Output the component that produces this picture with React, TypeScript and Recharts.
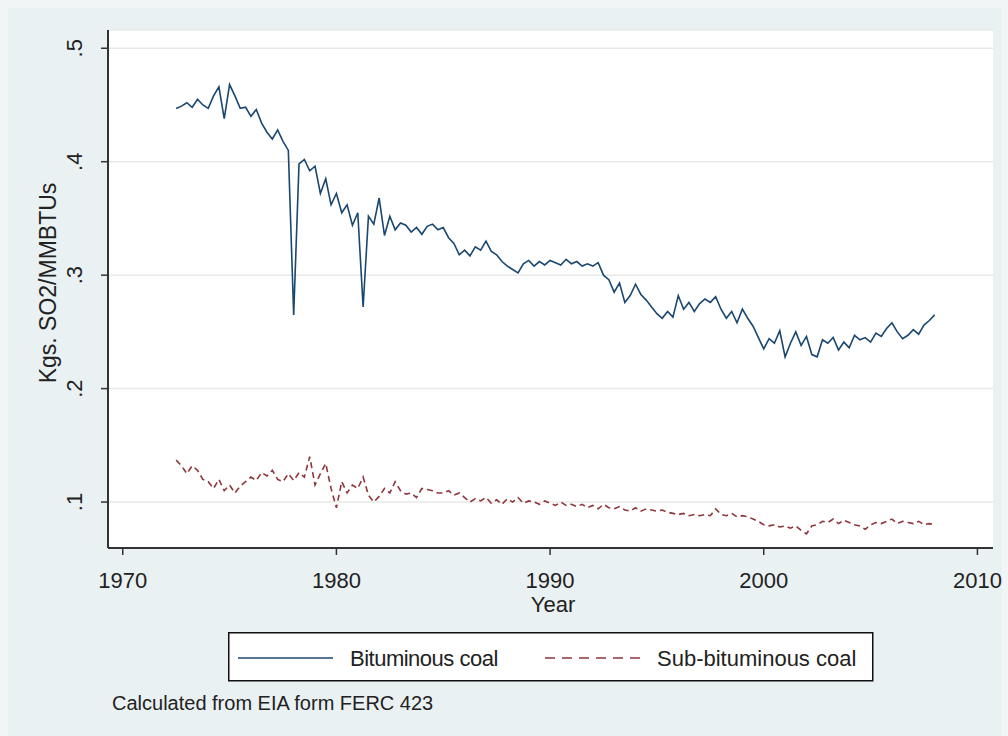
import React from "react";
import { CartesianGrid, Line, LineChart, XAxis, YAxis } from "recharts";

// quarterly observations, first one at mid-1972
const START_YEAR = 1972.5;
const STEP = 0.25;

const bituminous = [
  0.447, 0.449,
  0.452, 0.448, 0.455, 0.45,
  0.447, 0.458, 0.466, 0.438,
  0.468, 0.458, 0.447, 0.448,
  0.44, 0.446, 0.434, 0.426,
  0.42, 0.428, 0.418, 0.41,
  0.265, 0.398, 0.402, 0.392,
  0.396, 0.372, 0.385, 0.362,
  0.372, 0.355, 0.362, 0.344,
  0.355, 0.272, 0.352, 0.345,
  0.368, 0.335, 0.352, 0.34,
  0.346, 0.344, 0.338, 0.342,
  0.336, 0.343, 0.345, 0.34,
  0.342, 0.333, 0.328, 0.318,
  0.322, 0.317, 0.325, 0.322,
  0.33, 0.321, 0.318, 0.312,
  0.308, 0.305, 0.302, 0.31,
  0.313, 0.308, 0.312, 0.309,
  0.313, 0.311, 0.309, 0.314,
  0.31, 0.312, 0.308, 0.31,
  0.308, 0.311, 0.3, 0.296,
  0.285, 0.293, 0.276, 0.282,
  0.292, 0.283, 0.278, 0.272,
  0.266, 0.262, 0.268, 0.263,
  0.282, 0.27, 0.276, 0.268,
  0.275, 0.279, 0.276, 0.281,
  0.27, 0.262, 0.268, 0.258,
  0.27, 0.262, 0.255, 0.245,
  0.235, 0.244, 0.24, 0.251,
  0.228, 0.24, 0.25, 0.238,
  0.246, 0.23, 0.228, 0.243,
  0.24, 0.245, 0.234, 0.241,
  0.236, 0.247, 0.243, 0.245,
  0.241, 0.249, 0.246, 0.253,
  0.258, 0.25, 0.244, 0.247,
  0.252, 0.248, 0.256, 0.26,
  0.265,
];

const subBituminous = [
  0.137, 0.132,
  0.125, 0.132, 0.128, 0.12,
  0.118, 0.112, 0.12, 0.11,
  0.115, 0.108, 0.114, 0.118,
  0.122, 0.119, 0.126, 0.123,
  0.128, 0.12, 0.118, 0.125,
  0.119, 0.126, 0.122, 0.14,
  0.115, 0.125, 0.134, 0.112,
  0.095, 0.118, 0.108, 0.115,
  0.112, 0.122, 0.106, 0.1,
  0.105, 0.112, 0.108, 0.118,
  0.11, 0.107, 0.108, 0.104,
  0.112, 0.111, 0.11, 0.108,
  0.108, 0.11, 0.106, 0.108,
  0.104, 0.1, 0.103, 0.101,
  0.104, 0.099, 0.102, 0.098,
  0.103, 0.1, 0.104, 0.099,
  0.101, 0.1, 0.098, 0.101,
  0.099, 0.097, 0.1, 0.097,
  0.098, 0.096, 0.098, 0.095,
  0.097, 0.094, 0.098, 0.095,
  0.094, 0.096, 0.093, 0.092,
  0.095, 0.092, 0.094, 0.093,
  0.092, 0.093, 0.091, 0.09,
  0.089, 0.09, 0.088, 0.089,
  0.088, 0.089, 0.088, 0.094,
  0.089, 0.088, 0.09, 0.087,
  0.088, 0.087, 0.085, 0.083,
  0.08, 0.079, 0.08, 0.078,
  0.079, 0.077, 0.079, 0.075,
  0.072, 0.079, 0.08, 0.083,
  0.082, 0.085, 0.081, 0.084,
  0.082, 0.08, 0.079, 0.076,
  0.08, 0.082, 0.081, 0.083,
  0.085, 0.081, 0.083, 0.082,
  0.081, 0.083, 0.08, 0.081,
  0.08,
];

const xTicks = [1970, 1980, 1990, 2000, 2010];
const yTicks = [0.1, 0.2, 0.3, 0.4, 0.5];

const series = [
  { key: "bit", name: "Bituminous coal", color: "#1A476F", dash: undefined as string | undefined },
  { key: "sub", name: "Sub-bituminous coal", color: "#90353B", dash: "10 7" },
];

const data = bituminous.map((v, i) => ({
  t: START_YEAR + i * STEP,
  bit: v,
  sub: subBituminous[i],
}));

const FONT = "Arial, 'Liberation Sans', sans-serif";
const TEXT = "#222";
const AXIS = "#333";

function YTick({ y, payload }: any) {
  const label = Number(payload.value).toFixed(1).replace(/^0/, "");
  return (
    <text
      transform={`translate(82, ${y}) rotate(-90)`}
      textAnchor="middle"
      fontSize={22}
      fontFamily={FONT}
      fill={TEXT}
    >
      {label}
    </text>
  );
}

function XTick({ x, payload }: any) {
  return (
    <text x={x} y={588} textAnchor="middle" fontSize={22} fontFamily={FONT} fill={TEXT}>
      {payload.value}
    </text>
  );
}

export default function App() {
  return (
    <div style={{ position: "absolute", left: 0, top: 0, width: 1008, height: 736, background: "#F2F5F6", fontFamily: FONT }}>
      <div style={{ position: "absolute", left: 8, top: 8, right: 6, bottom: 0, background: "#EAF1F3" }} />
      <div style={{ position: "absolute", left: 0, top: 0 }}>
        <LineChart width={1008} height={736} data={data} margin={{ top: 30, right: 15, left: 8, bottom: 148 }}>
          <CartesianGrid vertical={false} stroke="#E8E8E8" strokeWidth={1.5} fill="#FFFFFF" />
          <XAxis
            dataKey="t"
            type="number"
            domain={[1969.31, 2010.73]}
            ticks={xTicks}
            allowDataOverflow
            height={40}
            tickSize={7}
            stroke={AXIS}
            strokeWidth={2}
            tickLine={{ stroke: AXIS, strokeWidth: 1.5 }}
            tick={<XTick />}
            interval={0}
          />
          <YAxis
            type="number"
            domain={[0.0595, 0.5161]}
            ticks={yTicks}
            allowDataOverflow
            width={100}
            tickSize={7}
            stroke={AXIS}
            strokeWidth={2}
            tickLine={{ stroke: AXIS, strokeWidth: 1.5 }}
            tick={<YTick />}
            interval={0}
          />
          {series.map(s => (
            <Line
              key={s.key}
              dataKey={s.key}
              name={s.name}
              type="linear"
              stroke={s.color}
              strokeWidth={1.6}
              strokeDasharray={s.key === "sub" ? "6 4" : undefined}
              dot={false}
              activeDot={false}
              isAnimationActive={false}
            />
          ))}
        </LineChart>
      </div>

      <div
        style={{
          position: "absolute",
          left: 48,
          top: 283,
          transform: "translate(-50%, -50%) rotate(-90deg)",
          whiteSpace: "nowrap",
          fontSize: 23,
          color: TEXT,
        }}
      >
        Kgs. SO2/MMBTUs
      </div>
      <div style={{ position: "absolute", left: 553, top: 605, transform: "translate(-50%, -50%)", fontSize: 22, color: TEXT }}>
        Year
      </div>

      <svg style={{ position: "absolute", left: 228, top: 632 }} width={646} height={50}>
        <rect x={0.75} y={0.75} width={644} height={48} fill="#FFFFFF" stroke="#111" strokeWidth={1.5} />
        <line x1={10} x2={105} y1={26} y2={26} stroke={series[0].color} strokeWidth={1.6} />
        <text x={122} y={34} fontSize={22} fontFamily={FONT} fill={TEXT} letterSpacing={-0.5}>
          {series[0].name}
        </text>
        <line x1={317} x2={412} y1={26} y2={26} stroke={series[1].color} strokeWidth={1.6} strokeDasharray={series[1].dash} />
        <text x={429} y={34} fontSize={22} fontFamily={FONT} fill={TEXT}>
          {series[1].name}
        </text>
      </svg>

      <div style={{ position: "absolute", left: 112, top: 692, fontSize: 20, color: TEXT, whiteSpace: "nowrap" }}>
        Calculated from EIA form FERC 423
      </div>
    </div>
  );
}
